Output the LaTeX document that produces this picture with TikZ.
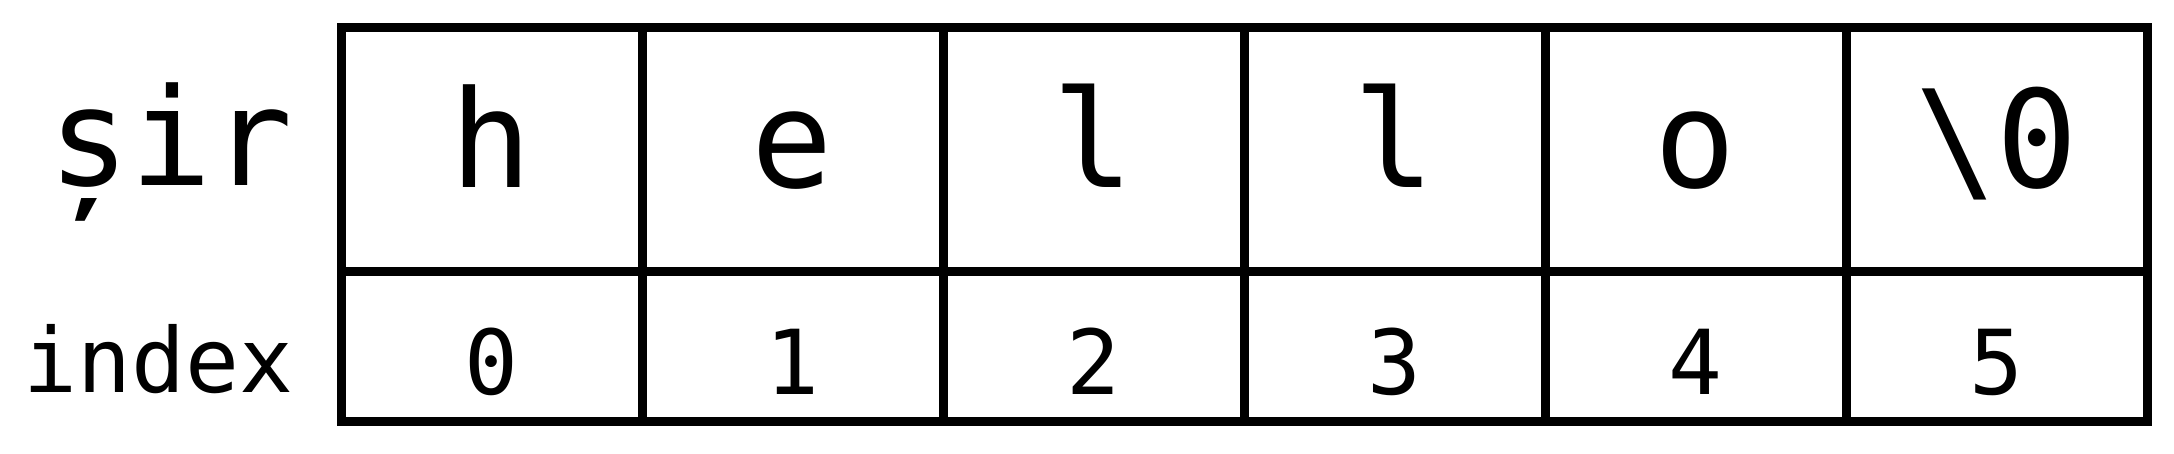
\documentclass[tikz,border=0pt]{standalone}
\usepackage{fontspec}
\setmonofont{DejaVu Sans Mono}
\begin{document}
\begin{tikzpicture}[
  charcell/.style={draw=black, line width=0.09cm, inner sep=0pt,
    minimum width=3.01cm, minimum height=2.44cm,
    text height=1.0cm, text depth=0.24cm,
    font=\ttfamily\fontsize{38.5}{40}\selectfont},
  idxcell/.style={draw=black, line width=0.09cm, inner sep=0pt,
    minimum width=3.01cm, minimum height=1.50cm,
    text height=1.1cm, text depth=0.14cm,
    font=\ttfamily\fontsize{25.5}{27}\selectfont},
  rowlabel/.style={inner sep=0pt, anchor=base east}
]
  \useasboundingbox (0,0) rectangle (21.74,4.54);
  % Characters of the string
  \foreach \ch [count=\i from 0] in {h, e, l, l, o, {\textbackslash0}} {
    \node[charcell] (c\i) at (4.915+3.01*\i, 3.04) {\ch};
  }
  % Index row
  \foreach \i in {0,...,5} {
    \node[idxcell] (n\i) at (4.915+3.01*\i, 1.07) {\i};
  }
  % Row labels
  \node[rowlabel, font=\ttfamily\fontsize{38.5}{40}\selectfont] (lsir) at (2.94, 2.68) {șir};
  \node[rowlabel, font=\ttfamily\fontsize{25.5}{27}\selectfont] (lidx) at (2.94, 0.61) {index};
\end{tikzpicture}
\end{document}
